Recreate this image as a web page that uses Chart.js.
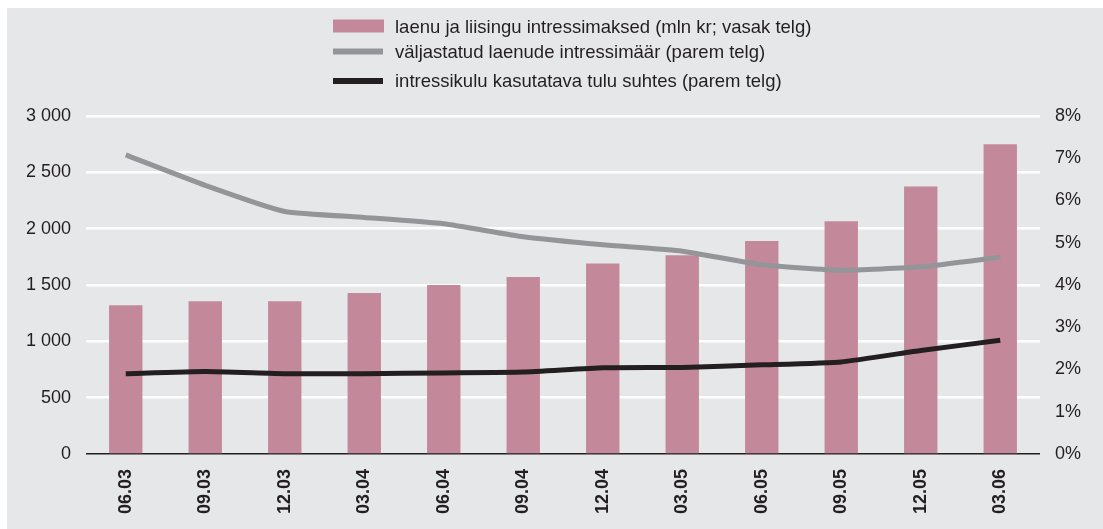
<!DOCTYPE html>
<html>
<head>
<meta charset="utf-8">
<script src="https://cdn.jsdelivr.net/npm/chart.js@4/dist/chart.umd.min.js"></script>
<style>
    body { margin: 0; background: #ffffff; }
    #wrap { position: absolute; left: 7px; top: 8px; width: 1096px; height: 521px; background: #e6e7e8; }
</style>
</head>
<body>
<div id="wrap"><canvas id="intress" width="1096" height="521"></canvas></div>
<script>
let quarters = ["06.03", "09.03", "12.03", "03.04", "06.04", "09.04", "12.04", "03.05", "06.05", "09.05", "12.05", "03.06"];
let interestPayments = [1320, 1355, 1355, 1430, 1500, 1570, 1690, 1765, 1890, 2065, 2375, 2750];
let loanRate = [7.08, 6.36, 5.74, 5.60, 5.45, 5.14, 4.95, 4.80, 4.48, 4.35, 4.43, 4.66];
let costToIncome = [1.90, 1.95, 1.90, 1.90, 1.92, 1.94, 2.04, 2.05, 2.11, 2.18, 2.45, 2.69];

let seriesNames = ["laenu ja liisingu intressimaksed (mln kr; vasak telg)",
    "väljastatud laenude intressimäär (parem telg)",
    "intressikulu kasutatava tulu suhtes (parem telg)"];

const font = "'Liberation Sans', Arial, sans-serif";
const ink = "#231f20";

// legend stacked in one column above the plot
const stackedLegend = {
    id: "stackedLegend",
    afterDraw(chart) {
        let ctx = chart.ctx;
        let baselines = [24.5, 49.5, 79];
        ctx.save();
        ctx.font = "18.5px " + font;
        ctx.fillStyle = ink;
        ctx.textBaseline = "alphabetic";
        chart.data.datasets.forEach((ds, i) => {
            let yMid = baselines[i] - 6;
            if (ds.type === "bar") {
                ctx.fillStyle = ds.backgroundColor;
                ctx.fillRect(326, yMid - 7, 51, 13);
            } else {
                ctx.fillStyle = ds.borderColor;
                ctx.fillRect(326, yMid - 3, 50, 6);
            }
            ctx.fillStyle = ink;
            ctx.fillText(ds.label, 388, baselines[i]);
        });
        ctx.restore();
    }
};

new Chart(document.getElementById("intress").getContext("2d"), {
    type: "bar",
    data: {
        labels: quarters,
        datasets: [{
            type: "bar",
            label: seriesNames[0],
            data: interestPayments,
            backgroundColor: "#c4889b",
            barPercentage: 0.42,
            categoryPercentage: 1,
            yAxisID: "y",
            order: 3
        }, {
            type: "line",
            label: seriesNames[1],
            data: loanRate,
            borderColor: "#939598",
            borderWidth: 5,
            pointRadius: 0,
            tension: 0.15,
            yAxisID: "y1",
            order: 2
        }, {
            type: "line",
            label: seriesNames[2],
            data: costToIncome,
            borderColor: ink,
            borderWidth: 5,
            pointRadius: 0,
            tension: 0.15,
            yAxisID: "y1",
            order: 1
        }]
    },
    options: {
        responsive: false,
        animation: false,
        devicePixelRatio: 1,
        layout: { padding: { top: 108, left: 0, right: 0, bottom: 0 } },
        plugins: {
            legend: { display: false },
            tooltip: { enabled: false }
        },
        scales: {
            x: {
                grid: { display: false, drawTicks: false },
                border: { display: false },
                ticks: {
                    color: ink,
                    font: { family: font, size: 18, weight: "bold" },
                    minRotation: 90,
                    maxRotation: 90,
                    padding: 15
                },
                afterFit: scale => { scale.height = 75; }
            },
            y: {
                position: "left",
                min: 0,
                max: 3000,
                grid: {
                    drawTicks: false,
                    color: c => c.tick.value === 0 ? ink : "#ffffff",
                    lineWidth: c => c.tick.value === 0 ? 1.5 : 2.5
                },
                border: { display: false },
                ticks: {
                    stepSize: 500,
                    padding: 15,
                    color: ink,
                    font: { family: font, size: 18 },
                    callback: v => v >= 1000 ? Math.floor(v / 1000) + " " + String(v % 1000).padStart(3, "0") : String(v)
                },
                afterFit: scale => { scale.width = 79; }
            },
            y1: {
                position: "right",
                min: 0,
                max: 8,
                grid: { display: false, drawTicks: false },
                border: { display: false },
                ticks: {
                    stepSize: 1,
                    padding: 15,
                    color: ink,
                    font: { family: font, size: 18 },
                    callback: v => v + "%"
                },
                afterFit: scale => { scale.width = 63; }
            }
        }
    },
    plugins: [stackedLegend]
});
</script>
</body>
</html>
